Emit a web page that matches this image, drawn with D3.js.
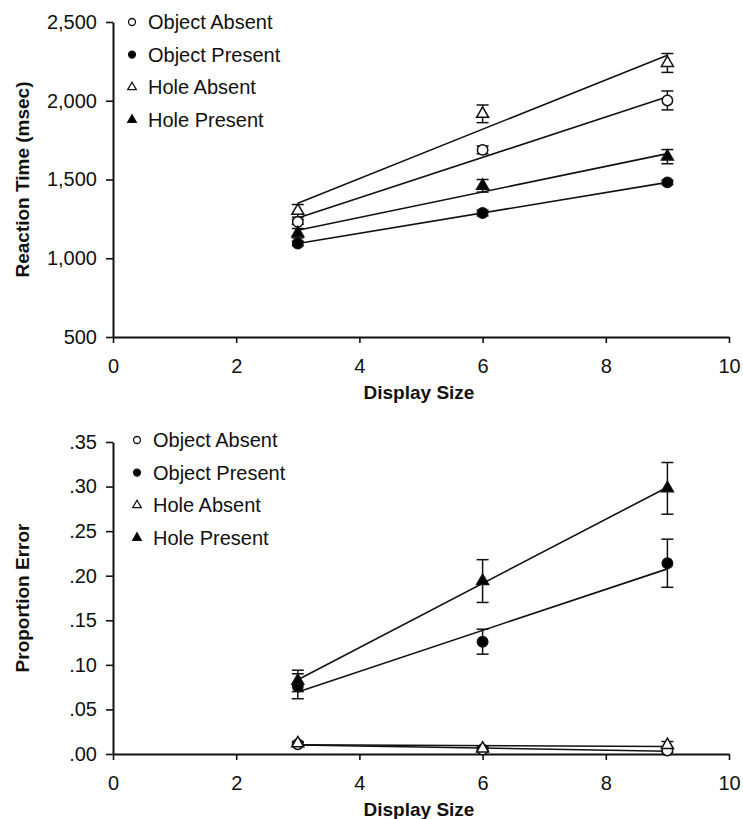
<!DOCTYPE html>
<html>
<head>
<meta charset="utf-8">
<script src="https://cdn.jsdelivr.net/npm/d3@7"></script>
<style>
  body { margin: 0; background: #fff; }
  text { font-family: "Liberation Sans", Arial, sans-serif; }
</style>
</head>
<body>
<div id="graph"></div>
<script>
'use strict';

// data
var displaySizes = [3, 6, 9];
var xTicks = [0, 2, 4, 6, 8, 10];
var seriesNames = ["Object Absent", "Object Present", "Hole Absent", "Hole Present"];

// top panel: reaction time (msec)
var rtObjectAbsent = [1231, 1688, 2002];
var rtObjectPresent = [1094, 1287, 1482];
var rtHoleAbsent = [1301, 1917, 2240];
var rtHolePresent = [1159, 1460, 1645];
var rtErrObjectAbsent = [15, 25, 60];
var rtErrObjectPresent = [14, 18, 14];
var rtErrHoleAbsent = [40, 56, 60];
var rtErrHolePresent = [30, 40, 45];
var rtTicks = [500, 1000, 1500, 2000, 2500];

// bottom panel: proportion error
var peObjectAbsent = [0.011, 0.005, 0.004];
var peObjectPresent = [0.076, 0.126, 0.214];
var peHoleAbsent = [0.012, 0.006, 0.010];
var peHolePresent = [0.082, 0.194, 0.298];
var peErrObjectAbsent = [0.002, 0.002, 0.002];
var peErrObjectPresent = [0.014, 0.014, 0.027];
var peErrHoleAbsent = [0.002, 0.002, 0.004];
var peErrHolePresent = [0.012, 0.024, 0.029];
var peTicks = [0, 0.05, 0.10, 0.15, 0.20, 0.25, 0.30, 0.35];

var w = 743;
var h = 819;

var svg = d3.select("#graph")
    .append("svg")
    .attr("width", w)
    .attr("height", h);

// marker style per series: open/filled, circle/triangle
var markerSym = [d3.symbolCircle, d3.symbolCircle, d3.symbolTriangle, d3.symbolTriangle];
var markerFill = ["white", "black", "white", "black"];

// least squares line through the three points
var fitLine = function(xs, ys) {
    var n = xs.length;
    var mx = d3.mean(xs), my = d3.mean(ys);
    var sxy = 0, sxx = 0;
    for (var i = 0; i < n; i++) {
        sxy += (xs[i] - mx) * (ys[i] - my);
        sxx += (xs[i] - mx) * (xs[i] - mx);
    }
    var b = sxy / sxx;
    return function(x) { return my + b * (x - mx); };
};

var drawPanel = function(opt) {
    var g = svg.append("g");

    var x = d3.scaleLinear().domain([0, 10]).range([113, 729]);
    var y = d3.scaleLinear().domain(opt.yDomain).range([opt.yBottom, opt.yTop]);

    // axes
    var xAxis = g.append("g")
        .attr("transform", "translate(0," + opt.yBottom + ")")
        .call(d3.axisBottom(x).tickValues(xTicks).tickSize(6).tickSizeOuter(0).tickPadding(16));
    var yAxis = g.append("g")
        .attr("transform", "translate(113,0)")
        .call(d3.axisLeft(y).tickValues(opt.yTicks).tickFormat(opt.fmt).tickSize(7).tickSizeOuter(0).tickPadding(9));

    [xAxis, yAxis].forEach(function(a) {
        a.select(".domain").attr("stroke", "#111").attr("stroke-width", 2);
        a.selectAll(".tick line").attr("stroke", "#111").attr("stroke-width", 1.6);
        a.selectAll("text")
            .attr("font-family", "Liberation Sans, Arial, sans-serif")
            .attr("font-size", "20px")
            .attr("fill", "#111");
    });

    // axis titles
    g.append("text")
        .attr("x", 419)
        .attr("y", opt.xTitleY)
        .attr("text-anchor", "middle")
        .attr("font-size", "19px")
        .attr("font-weight", "bold")
        .attr("fill", "#111")
        .text("Display Size");

    g.append("text")
        .attr("transform", "translate(29," + ((opt.yTop + opt.yBottom) / 2) + ") rotate(-90)")
        .attr("text-anchor", "middle")
        .attr("font-size", "19px")
        .attr("font-weight", "bold")
        .attr("fill", "#111")
        .text(opt.yTitle);

    // regression lines
    opt.series.forEach(function(vals) {
        var f = fitLine(displaySizes, vals);
        var x0 = d3.min(displaySizes), x1 = d3.max(displaySizes);
        g.append("line")
            .attr("x1", x(x0)).attr("y1", y(f(x0)))
            .attr("x2", x(x1)).attr("y2", y(f(x1)))
            .attr("stroke", "#111")
            .attr("stroke-width", 1.6);
    });

    // error bars
    opt.series.forEach(function(vals, s) {
        var errs = opt.errors[s];
        var eb = g.append("g");
        eb.selectAll("line.v")
            .data(displaySizes)
            .enter()
            .append("line")
            .attr("x1", function(d) { return x(d); })
            .attr("x2", function(d) { return x(d); })
            .attr("y1", function(d, i) { return y(vals[i] - errs[i]); })
            .attr("y2", function(d, i) { return y(vals[i] + errs[i]); })
            .attr("stroke", "#111").attr("stroke-width", 1.5);
        [-1, 1].forEach(function(sign) {
            eb.selectAll("line.c" + sign)
                .data(displaySizes)
                .enter()
                .append("line")
                .attr("x1", function(d) { return x(d) - 6; })
                .attr("x2", function(d) { return x(d) + 6; })
                .attr("y1", function(d, i) { return y(vals[i] + sign * errs[i]); })
                .attr("y2", function(d, i) { return y(vals[i] + sign * errs[i]); })
                .attr("stroke", "#111").attr("stroke-width", 1.5);
        });
    });

    // markers
    opt.series.forEach(function(vals, s) {
        g.selectAll("path.m" + s)
            .data(displaySizes)
            .enter()
            .append("path")
            .attr("d", d3.symbol().type(markerSym[s]).size(s < 2 ? 85 : 62))
            .attr("transform", function(d, i) {
                return "translate(" + x(d) + "," + y(vals[i]) + ")";
            })
            .attr("fill", markerFill[s])
            .attr("stroke", "#111")
            .attr("stroke-width", 1.5);
    });

    // legend
    var leg = g.append("g");
    seriesNames.forEach(function(name, s) {
        var ly = opt.legendY + s * 32.6;
        leg.append("path")
            .attr("d", d3.symbol().type(markerSym[s]).size(s < 2 ? 38 : 32))
            .attr("transform", "translate(" + opt.legendX + "," + ly + ")")
            .attr("fill", markerFill[s])
            .attr("stroke", "#111")
            .attr("stroke-width", 1.3);
        leg.append("text")
            .attr("x", opt.legendX + 16)
            .attr("y", ly)
            .attr("dy", "0.36em")
            .attr("font-size", "20px")
            .attr("fill", "#111")
            .text(name);
    });
};

drawPanel({
    yDomain: [500, 2500],
    yTop: 22,
    yBottom: 337,
    yTicks: rtTicks,
    fmt: d3.format(","),
    yTitle: "Reaction Time (msec)",
    xTitleY: 399,
    series: [rtObjectAbsent, rtObjectPresent, rtHoleAbsent, rtHolePresent],
    errors: [rtErrObjectAbsent, rtErrObjectPresent, rtErrHoleAbsent, rtErrHolePresent],
    legendX: 132,
    legendY: 22
});

drawPanel({
    yDomain: [0, 0.35],
    yTop: 442,
    yBottom: 754,
    yTicks: peTicks,
    fmt: function(d) { return d3.format(".2f")(d).replace(/^0/, ""); },
    yTitle: "Proportion Error",
    xTitleY: 816,
    series: [peObjectAbsent, peObjectPresent, peHoleAbsent, peHolePresent],
    errors: [peErrObjectAbsent, peErrObjectPresent, peErrHoleAbsent, peErrHolePresent],
    legendX: 137,
    legendY: 440
});
</script>
</body>
</html>
